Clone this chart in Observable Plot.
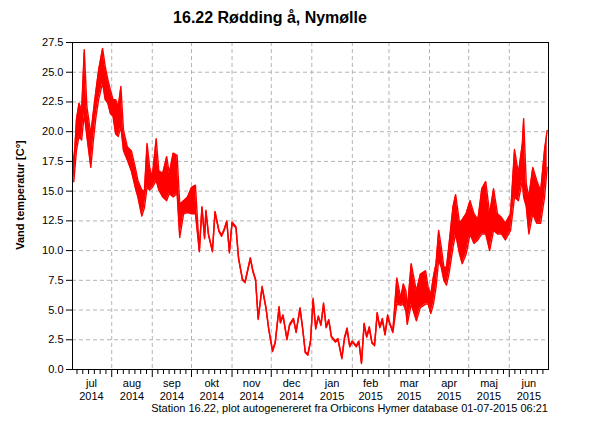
<!DOCTYPE html>
<html>
<head>
<meta charset="utf-8">
<script src="https://cdn.jsdelivr.net/npm/d3@7"></script>
<script src="https://cdn.jsdelivr.net/npm/@observablehq/plot@0.6"></script>
<style>
  body { margin: 0; background: #fff; }
  #wrap { position: relative; width: 600px; height: 425px; font-family: "Liberation Sans", Arial, sans-serif; color: #000; }
  #title { position: absolute; left: 0; width: 540px; top: 9px; text-align: center; font-weight: bold; font-size: 16px; }
  #ylabel { position: absolute; left: 20px; top: 195px; transform: translate(-50%, -50%) rotate(-90deg); white-space: nowrap; font-weight: bold; font-size: 11px; }
  #foot { position: absolute; right: 52px; top: 402px; font-size: 11px; white-space: nowrap; }
  #chart { position: absolute; left: 0; top: 0; }
</style>
</head>
<body>
<div id="wrap">
  <div id="chart"></div>
  <div id="title">16.22 Rødding å, Nymølle</div>
  <div id="ylabel">Vand temperatur [C°]</div>
  <div id="foot">Station 16.22, plot autogenereret fra Orbicons Hymer database 01-07-2015 06:21</div>
</div>
<script>
// Water temperature readings: date, low and high of the trace around that date (°C)
const readingDates = [
  // summer 2014
  "2014-07-02","2014-07-03","2014-07-05","2014-07-07","2014-07-09","2014-07-11","2014-07-13","2014-07-16",
  "2014-07-18","2014-07-20","2014-07-22","2014-07-25","2014-07-27","2014-07-29","2014-07-31","2014-08-02",
  "2014-08-04","2014-08-06","2014-08-08","2014-08-10","2014-08-13","2014-08-16","2014-08-19","2014-08-21",
  "2014-08-24","2014-08-26","2014-08-28","2014-08-30","2014-09-01","2014-09-04","2014-09-06","2014-09-09",
  "2014-09-12","2014-09-14","2014-09-17","2014-09-20","2014-09-22","2014-09-25","2014-09-28","2014-10-01",
  "2014-10-04",
  // autumn and winter
  "2014-10-07","2014-10-09","2014-10-11","2014-10-12","2014-10-14","2014-10-17","2014-10-19","2014-10-22",
  "2014-10-24","2014-10-26","2014-10-28","2014-10-30","2014-11-01","2014-11-04","2014-11-06","2014-11-09",
  "2014-11-11","2014-11-15","2014-11-17","2014-11-19","2014-11-21","2014-11-24","2014-11-27","2014-11-29",
  "2014-12-02","2014-12-04","2014-12-07","2014-12-08","2014-12-10","2014-12-13","2014-12-15","2014-12-18",
  "2014-12-20","2014-12-23","2014-12-25","2014-12-27","2014-12-29","2014-12-31","2015-01-02","2015-01-04",
  "2015-01-06","2015-01-08","2015-01-10","2015-01-12","2015-01-14","2015-01-16","2015-01-19","2015-01-21",
  "2015-01-24","2015-01-26","2015-01-28","2015-01-30","2015-02-01","2015-02-04","2015-02-06","2015-02-08",
  "2015-02-10","2015-02-12","2015-02-14","2015-02-16","2015-02-18","2015-02-20","2015-02-22","2015-02-24",
  "2015-02-26","2015-02-28","2015-03-02","2015-03-04",
  // spring 2015
  "2015-03-07","2015-03-10","2015-03-12","2015-03-14","2015-03-15","2015-03-18","2015-03-22","2015-03-25",
  "2015-03-29","2015-03-31","2015-04-02","2015-04-04","2015-04-06","2015-04-08","2015-04-10","2015-04-12",
  "2015-04-14","2015-04-16","2015-04-19","2015-04-21","2015-04-24","2015-04-26","2015-04-29","2015-05-02",
  "2015-05-05","2015-05-08","2015-05-11","2015-05-14","2015-05-17","2015-05-20","2015-05-23","2015-05-26",
  "2015-05-29","2015-06-02","2015-06-05","2015-06-08","2015-06-11","2015-06-12","2015-06-14","2015-06-16",
  "2015-06-19","2015-06-22","2015-06-25","2015-06-28","2015-06-30"
];
const lowTemps = [
  15.8,15.8,18.4,19.6,19.3,21.5,19.6,17.0,
  19.3,21.3,22.7,24.1,22.7,22.4,21.5,21.3,
  19.8,19.6,20.4,18.4,17.6,16.7,15.3,14.5,
  12.9,13.6,15.3,15.1,15.3,15.9,15.1,14.5,
  14.2,14.8,14.5,14.8,11.1,13.1,13.2,13.1,
  13.1,
  9.9,13.6,11.0,13.3,11.3,9.9,13.2,11.6,
  11.2,11.7,12.4,9.8,12.3,11.9,9.3,7.5,
  7.3,9.3,8.2,7.5,4.2,6.9,5.1,3.4,
  1.5,2.2,5.2,3.9,4.5,2.5,3.7,4.2,
  3.1,5.1,3.4,1.4,1.2,2.3,5.8,3.4,
  4.4,3.7,5.4,3.5,4.1,2.7,2.3,2.5,
  0.9,2.6,3.3,1.9,2.3,1.9,2.3,0.5,
  3.7,2.7,3.4,2.2,2.0,4.6,3.5,4.1,
  2.9,4.4,3.7,3.1,
  5.5,5.4,5.5,4.9,3.8,5.5,4.1,5.2,
  5.5,5.5,4.7,5.5,6.9,9.2,8.6,7.5,
  7.1,8.1,10.3,11.4,9.7,8.9,9.7,11.4,
  10.6,10.9,11.4,11.4,10.0,11.7,11.4,11.4,
  10.9,11.7,14.5,14.2,15.9,14.5,13.7,11.4,
  13.1,12.3,12.3,14.5,17.0
];
const highTemps = [
  18.4,17.0,21.0,22.4,21.8,26.9,22.1,19.8,
  21.7,23.5,25.2,27.0,25.5,24.4,23.5,22.7,
  22.7,22.1,23.8,20.1,18.7,18.4,17.0,15.9,
  15.1,15.0,19.0,17.0,16.2,19.4,16.7,16.5,
  17.9,16.5,18.2,18.0,13.9,14.2,14.5,15.3,
  15.5,
  10.0,13.7,11.1,13.4,11.4,10.0,13.3,11.7,
  11.3,11.8,12.5,9.9,12.4,12.0,9.4,7.6,
  7.4,9.4,8.3,7.6,4.3,7.0,5.2,3.5,
  1.6,2.3,5.3,4.0,4.6,2.6,3.8,4.3,
  3.2,5.2,3.5,1.5,1.3,2.4,6.0,3.5,
  4.5,3.8,5.6,3.6,4.2,2.8,2.4,2.6,
  1.0,2.7,3.5,2.0,2.4,2.0,2.4,0.6,
  3.9,2.8,3.6,2.3,2.1,4.8,3.6,4.3,
  3.0,4.6,3.8,3.3,
  7.7,6.0,7.2,6.6,5.0,8.9,6.6,8.0,
  8.3,6.9,6.3,7.8,8.9,11.7,10.3,8.6,
  8.6,10.6,13.7,14.7,12.3,12.6,13.1,14.2,
  13.1,12.6,15.2,15.8,13.1,15.2,13.1,12.8,
  12.3,13.1,18.5,16.5,19.0,21.1,15.6,14.5,
  17.0,15.9,15.0,18.5,20.1
];

// Axis values
const yTickValues = [0, 2.5, 5, 7.5, 10, 12.5, 15, 17.5, 20, 22.5, 25, 27.5];
const monthStarts = ["2014-08-01","2014-09-01","2014-10-01","2014-11-01","2014-12-01","2015-01-01",
  "2015-02-01","2015-03-01","2015-04-01","2015-05-01","2015-06-01"];
const monthLabels = ["jul\n2014","aug\n2014","sep\n2014","okt\n2014","nov\n2014","dec\n2014",
  "jan\n2015","feb\n2015","mar\n2015","apr\n2015","maj\n2015","jun\n2015"];
const xStart = "2014-07-02", xEnd = "2015-07-01";

const parse = d3.utcParse("%Y-%m-%d");
const rows = readingDates.map((d, i) => ({date: parse(d), low: lowTemps[i], high: highTemps[i]}));
const x0 = parse(xStart), x1 = parse(xEnd);
const majors = monthStarts.map(parse);

// Each month is split into seven parts by the minor ticks; labels sit at mid-month
const bounds = d3.utcMonth.range(d3.utcMonth.floor(x0), d3.utcMonth.offset(d3.utcMonth.floor(x1), 1));
const minors = [];
const mids = [];
bounds.forEach((b, i) => {
  const e = d3.utcMonth.offset(b, 1);
  const span = e - b;
  for (let k = 1; k < 7; k++) {
    const t = new Date(+b + span * k / 7);
    if (t >= x0 && t <= x1) minors.push(t);
  }
  if (i < monthLabels.length) mids.push(new Date((+b + +e) / 2));
});
const labelOf = new Map(mids.map((m, i) => [+m, monthLabels[i]]));

const gridColor = "#b4b4b4";
const red = "#ff0000";
const font = '"Liberation Sans", Arial, sans-serif';

const chart = Plot.plot({
  width: 600,
  height: 425,
  marginTop: 42,
  marginBottom: 56,
  marginLeft: 72,
  marginRight: 52,
  style: {fontFamily: font, fontSize: "11px", background: "white", color: "black"},
  x: {type: "utc", domain: [x0, x1]},
  y: {domain: [0, 27.5]},
  marks: [
    Plot.gridY(yTickValues.filter(v => v > 0 && v < 27.5), {stroke: gridColor, strokeOpacity: 1, strokeDasharray: "4,3"}),
    Plot.gridX(majors, {stroke: gridColor, strokeOpacity: 1, strokeDasharray: "4,3"}),
    Plot.areaY(rows, {x: "date", y1: "low", y2: "high", fill: red}),
    Plot.lineY(rows, {x: "date", y: "low", stroke: red, strokeWidth: 1.4}),
    Plot.lineY(rows, {x: "date", y: "high", stroke: red, strokeWidth: 1.4}),
    Plot.frame({stroke: "black"}),
    Plot.axisY(yTickValues, {tickFormat: d3.format(".1f"), tickSize: 6, tickPadding: 3, label: null, fontSize: 11}),
    Plot.axisX(majors, {tickSize: 8, tickFormat: () => "", label: null}),
    Plot.axisX(minors, {tickSize: 5, tickFormat: () => "", label: null}),
    Plot.axisX(mids, {tickSize: 0, tickPadding: 9, tickFormat: d => labelOf.get(+d), label: null, fontSize: 11, lineHeight: 1.15})
  ]
});
document.getElementById("chart").appendChild(chart);
</script>
</body>
</html>
